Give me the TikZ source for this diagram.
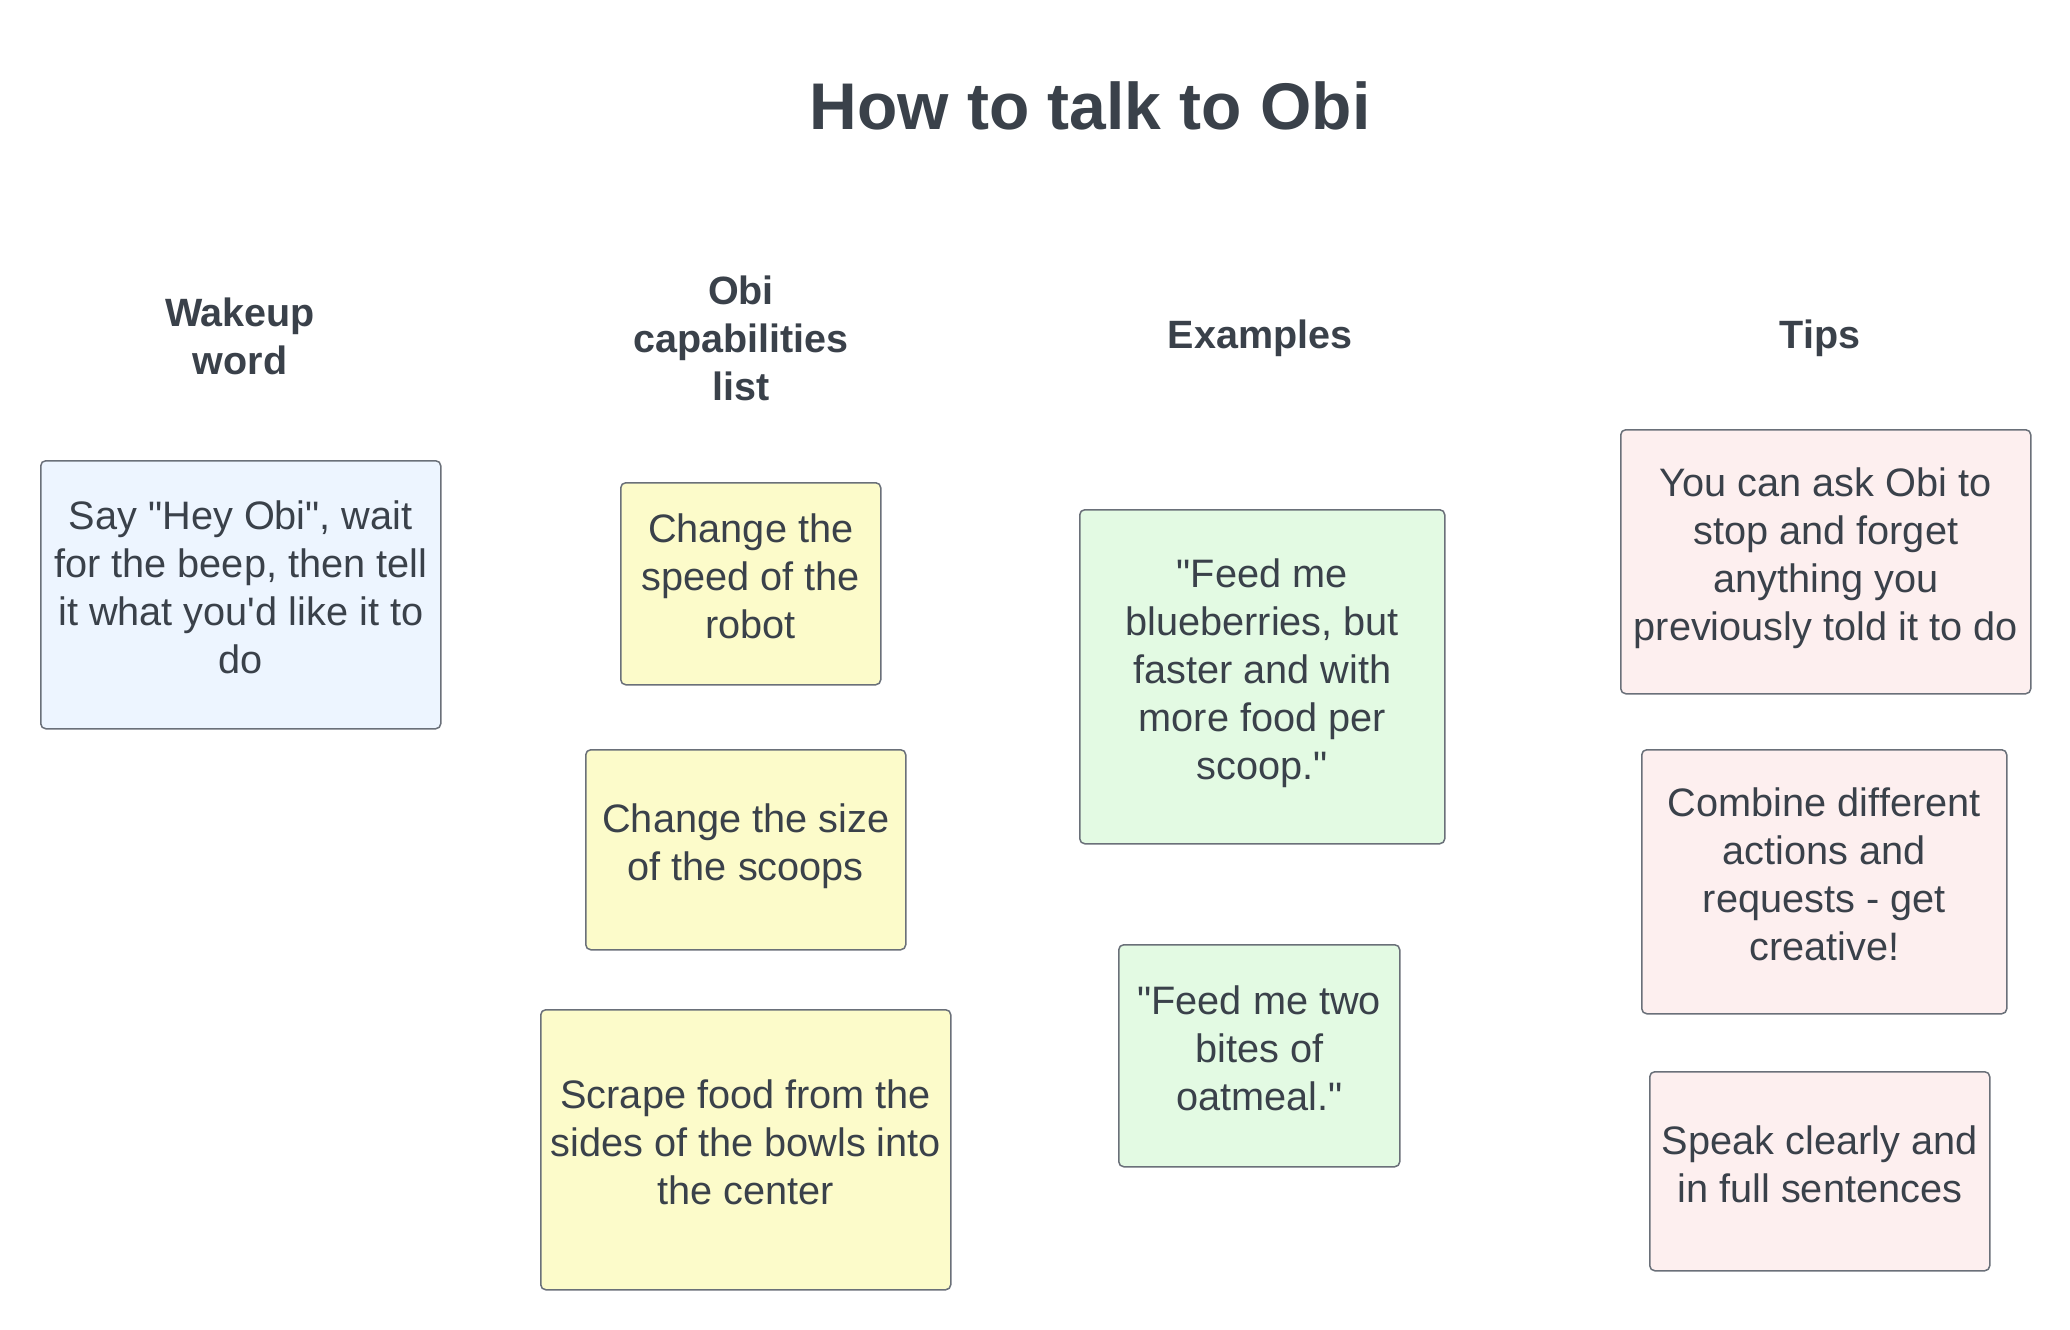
\documentclass[tikz,border=0pt]{standalone}
\usepackage{fontspec}
\setmainfont{Liberation Sans}[Ligatures=TeXOff]
\definecolor{txt}{HTML}{3A414A}
\definecolor{edge}{HTML}{6A7079}
\definecolor{fblue}{HTML}{EDF5FF}
\definecolor{fyellow}{HTML}{FCFBCA}
\definecolor{fgreen}{HTML}{E3FAE3}
\definecolor{fpink}{HTML}{FDEFEF}
\newcommand{\lnstrut}{\rule[-14.8pt]{0pt}{48pt}}
\newcommand{\hdstrut}{\rule[-17.5pt]{0pt}{48pt}}
\begin{document}
\begin{tikzpicture}[x=1pt,y=-1pt,
  card/.style={draw=edge, line width=1.5pt, rounded corners=5pt, align=center,
    text=txt, inner sep=0pt, anchor=north west,
    font=\fontsize{39.7pt}{48pt}\selectfont,
    execute at begin node=\lnstrut, execute at end node=\lnstrut},
  head/.style={align=center, text=txt, inner sep=0pt,
    font=\fontsize{39.5pt}{48pt}\selectfont\bfseries,
    execute at begin node=\hdstrut, execute at end node=\hdstrut},
  ttl/.style={text=txt, inner sep=0pt, anchor=base, font=\fontsize{66pt}{79pt}\selectfont\bfseries}]
\useasboundingbox[fill=white] (0,0) rectangle (2070,1330);

\node[ttl] (title) at (1090,129) {How to talk to Obi};

\node[head] (h1) at (240,344.5) {Wakeup\\word};
\node[head] (h2) at (741,347) {Obi\\capabilities\\list};
\node[head] (h3) at (1260,341.5) {Examples};
\node[head] (h4) at (1820,341.5) {Tips};

\node[card, fill=fblue, minimum width=400pt, minimum height=268pt] (wake) at (40,460)
  {Say "Hey Obi", wait\\for the beep, then tell\\it what you'd like it to\\do};

\node[card, fill=fyellow, minimum width=260pt, minimum height=202pt] (speed) at (620,482)
  {Change the\\speed of the\\robot};
\node[card, fill=fyellow, minimum width=320pt, minimum height=200pt] (size) at (585,749)
  {Change the size\\of the scoops};
\node[card, fill=fyellow, minimum width=410pt, minimum height=280pt] (scrape) at (540,1009)
  {Scrape food from the\\sides of the bowls into\\the center};

\node[card, fill=fgreen, minimum width=365pt, minimum height=334pt] (ex1) at (1079,509)
  {"Feed me\\blueberries, but\\faster and with\\more food per\\scoop."};
\node[card, fill=fgreen, minimum width=281pt, minimum height=222pt] (ex2) at (1118,944)
  {"Feed me two\\bites of\\oatmeal."};

\node[card, fill=fpink, minimum width=410pt, minimum height=264pt] (tip1) at (1620,429)
  {You can ask Obi to\\stop and forget\\anything you\\previously told it to do};
\node[card, fill=fpink, minimum width=365pt, minimum height=264pt] (tip2) at (1641,749)
  {Combine different\\actions and\\requests - get\\creative!};
\node[card, fill=fpink, minimum width=340pt, minimum height=199pt] (tip3) at (1649,1071)
  {Speak clearly and\\in full sentences};
\end{tikzpicture}
\end{document}
